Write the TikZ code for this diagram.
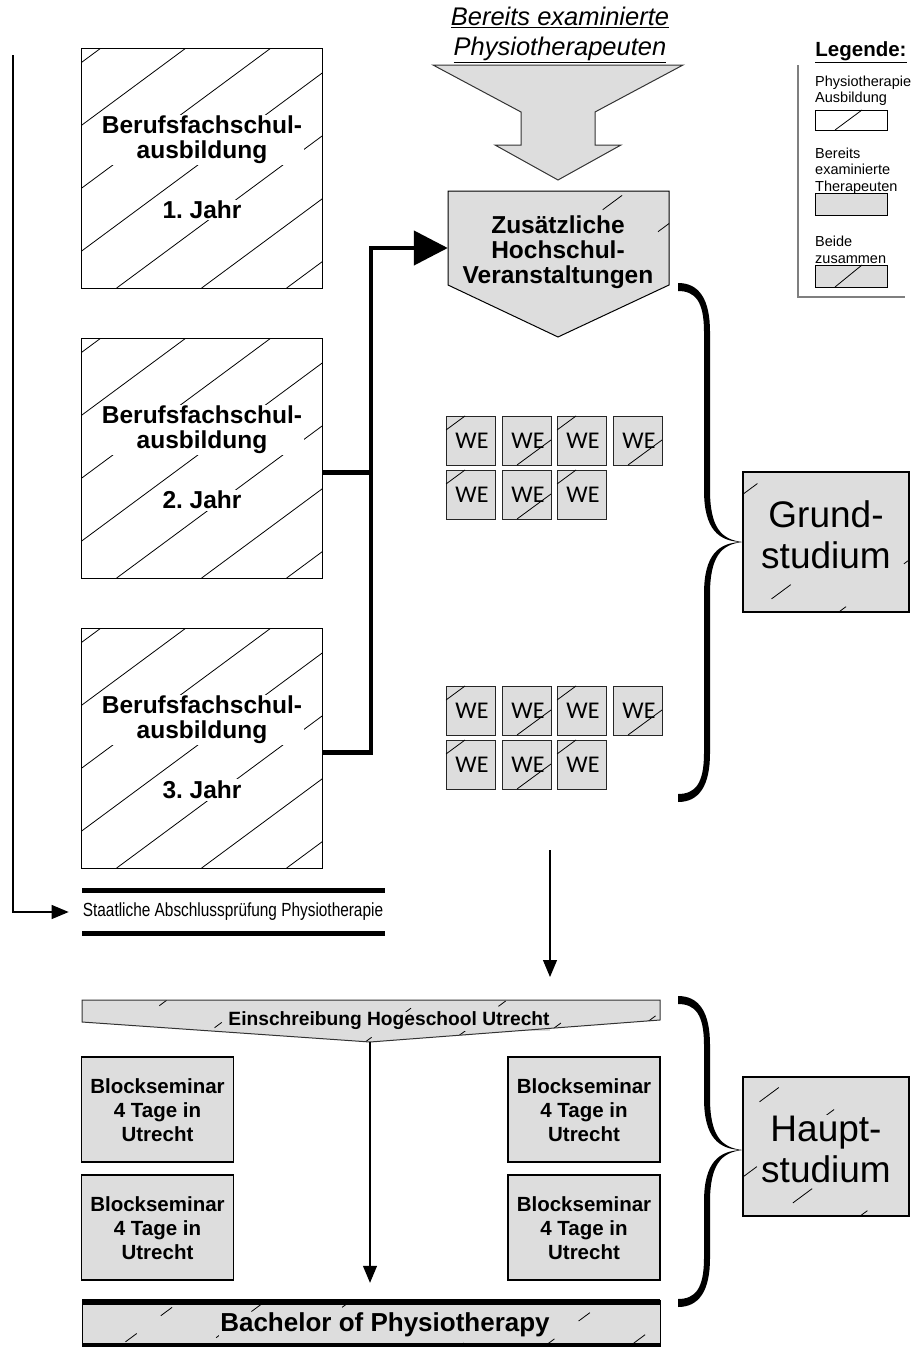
\documentclass[tikz,border=0pt]{standalone}
\usepackage{fontspec}
\usepackage{graphicx}
\setmainfont{Liberation Sans}
\newfontfamily\wefont{Carlito}
\usetikzlibrary{arrows.meta}
\definecolor{boxgrey}{HTML}{DDDDDD}
\definecolor{framegrey}{HTML}{7F7F7F}
\newcommand{\myfs}[2]{\fontsize{#1}{#2}\selectfont}
% hatch: #1 clip path, #2 x1, #3 y1, #4 x2, #5 y2, #6 options, #7 phase
\newcommand{\hatchclip}[7]{%
  \begin{scope}
    \clip #1;
    \pgfmathsetmacro{\hh}{#5-#3}%
    \pgfmathsetmacro{\dxx}{\hh/0.74}%
    \pgfmathtruncatemacro{\nn}{(#4-#2+\dxx)/85+1}%
    \foreach \i in {0,...,\nn}{%
      \pgfmathsetmacro{\cc}{#2-\dxx+\i*85+#7}%
      \pgfmathsetmacro{\ph}{\i*37}%
      \draw[hatchline,#6,dash phase=\ph pt] (\cc,#5) -- ++(\dxx,-\hh);
    }%
  \end{scope}}
% curly brace: #1 top y, #2 tip y, #3 bottom y
\newcommand{\curlybrace}[3]{%
  \fill[black] (678,{#1-4}) .. controls (699,{#1-4}) and (710,{#1+12}) .. (710,{#1+45})
    -- (710,{#2-52}) .. controls (710,{#2-15}) and (721,{#2-2}) .. (743,#2)
    .. controls (721,{#2+2}) and (710,{#2+15}) .. (710,{#2+52})
    -- (710,{#3-45}) .. controls (710,{#3-12}) and (699,{#3+4}) .. (678,{#3+4})
    -- (678,{#3-4}) .. controls (695,{#3-4}) and (704,{#3-14}) .. (704,{#3-45})
    -- (704,{#2+52}) .. controls (704,{#2+12}) and (719,{#2+1}) .. (741,#2)
    .. controls (719,{#2-1}) and (704,{#2-12}) .. (704,{#2-52})
    -- (704,{#1+45}) .. controls (704,{#1+14}) and (695,{#1+4}) .. (678,{#1+4}) -- cycle;}
% WE box: #1 name, #2 x, #3 y, #4 corner (1 = top left, 2 = bottom right)
\newcommand{\weBox}[4]{%
  \node[wenode] (#1) at ({#2+24.5},{#3+24.5}) {\hspace{3pt}WE};
  \ifnum#4=1
    \draw[hatchline] (#2,{#3+14}) -- ({#2+19},#3);
  \else
    \draw[hatchline] ({#2+15},{#3+49}) -- ({#2+49},{#3+24});
  \fi}
\begin{document}
\begin{tikzpicture}[x=1pt,y=-1pt,
  hatchline/.style={line width=0.8pt, black},
  sparse/.style={dash pattern=on 24pt off 72pt},
  edge/.style={draw=black, line width=1.1pt},
  whitebox/.style={edge, minimum width=241pt, minimum height=240pt, inner sep=0pt, anchor=north west},
  bftxt/.style={font=\bfseries\myfs{24.5}{25}, align=center, fill=white, inner sep=1.5pt},
  greytxt/.style={font=\bfseries\myfs{24.5}{25}, align=center, fill=boxgrey, inner sep=1.5pt},
  bstxt/.style={font=\bfseries\myfs{20.5}{24}, align=center, fill=boxgrey, inner sep=0.5pt},
  bsbox/.style={edge, minimum width=152pt, minimum height=105pt, inner sep=0pt},
  studtxt/.style={font=\myfs{37}{41}, align=center, fill=boxgrey, inner sep=1pt},
  wenode/.style={draw=black!85, line width=1pt, fill=boxgrey, minimum size=49pt, inner sep=0pt, font=\wefont\myfs{24}{24}},
  legtxt/.style={font=\myfs{14.5}{16.5}, align=left, anchor=west, inner sep=0pt},
  thickconn/.style={line width=4.5pt, line join=miter},
  thinconn/.style={line width=1.1pt},
  bigtip/.style={-{Triangle[length=34pt,width=34pt]}},
  smalltip/.style={-{Triangle[length=17pt,width=14pt]}},
  ghost/.style={inner sep=0pt}
]
\useasboundingbox (0,0) rectangle (913,1349);

% ---------- Berufsfachschule boxes ----------
\foreach \T/\nm/\yr in {48/b1/1, 338/b2/2, 628/b3/3}{
  \hatchclip{(81,\T) rectangle (322,\T+240)}{81}{\T}{322}{\T+240}{}{20}
  \node[whitebox] (\nm) at (81,\T) {};
  \node[bftxt] at (202,\T+92) {Berufsfachschul-\\ausbildung};
  \node[bftxt] at (202,\T+162) {\yr.\ Jahr};
}

% ---------- top text and big arrow ----------
\node[font=\itshape\myfs{25.5}{30}, align=center, inner sep=0pt] (bereits) at (560,35)
  {\underline{Bereits examinierte}\\\underline{Physiotherapeuten}};
\filldraw[fill=boxgrey, draw=black!80, line width=1pt]
  (433,65) -- (683,65) -- (595,112) -- (595,145) -- (621,145) -- (558,180)
  -- (495,145) -- (521,145) -- (521,112) -- cycle;

% ---------- Zusaetzliche Hochschulveranstaltungen ----------
\fill[boxgrey] (448,191) -- (669,191) -- (669,285) -- (558,337) -- (448,285) -- cycle;
\hatchclip{(448,191) -- (669,191) -- (669,285) -- (558,337) -- (448,285) -- cycle}{448}{191}{669}{337}{sparse}{10}
\node[ghost, minimum width=221pt, minimum height=94pt] (zus) at (558.5,238) {};
\node[greytxt] (zustxt) at (558,252) {Zusätzliche\\Hochschul-\\Veranstaltungen};
\draw[edge, line width=1pt] (448,191) -- (669,191) -- (669,285) -- (558,337) -- (448,285) -- cycle;

% ---------- thick connectors ----------
\draw[thickconn] ([yshift=-14pt]b2.east) -- ++(48,0);
\draw[thickconn, bigtip] ([yshift=-4pt]b3.east) -- ++(48,0) |- ([yshift=-10pt]zus.west);

% ---------- WE groups ----------
\foreach \gy/\g in {416/a, 686/b}{
  \weBox{we\g1}{446}{\gy}{1}
  \weBox{we\g2}{502}{\gy}{2}
  \weBox{we\g3}{557}{\gy}{1}
  \weBox{we\g4}{613}{\gy}{2}
  \weBox{we\g5}{446}{\gy+54}{1}
  \weBox{we\g6}{502}{\gy+54}{2}
  \weBox{we\g7}{557}{\gy+54}{1}
}

% ---------- Grundstudium ----------
\fill[boxgrey] (743,472) rectangle (909,612);
\hatchclip{(743,472) rectangle (909,612)}{743}{472}{909}{612}{sparse}{30}
\node[studtxt] (grundtxt) at (826,535) {Grund-\\studium};
\node[edge, minimum width=166pt, minimum height=140pt, inner sep=0pt] (grund) at (826,542) {};
\curlybrace{287}{542}{798}

% ---------- legend ----------
\node[font=\bfseries\myfs{20.5}{22}, inner sep=0pt] (leg) at (861,52) {\underline{Legende:}};
\draw[framegrey, line width=1.1pt] (798,65) -- (798,297) -- (905,297);
\node[legtxt] (l1) at (815,91) {Physiotherapie\\Ausbildung};
\node[edge, line width=0.9pt, minimum width=72pt, minimum height=20pt, inner sep=0pt] (lb1) at (851,120) {};
\draw[hatchline] (835,130) -- (862,110);
\node[legtxt] (l2) at (815,171) {Bereits\\examinierte\\Therapeuten};
\node[edge, line width=0.9pt, fill=boxgrey, minimum width=72pt, minimum height=22pt, inner sep=0pt] (lb2) at (851,204) {};
\node[legtxt] (l3) at (815,250) {Beide\\zusammen};
\node[edge, line width=0.9pt, fill=boxgrey, minimum width=72pt, minimum height=22pt, inner sep=0pt] (lb3) at (851,276) {};
\draw[hatchline] (835,287) -- (862,265);

% ---------- Staatliche Abschlusspruefung ----------
\node[font=\myfs{19}{21}, inner sep=0pt] (st) at (233,912)
  {\scalebox{0.81}[1]{Staatliche Abschlussprüfung Physiotherapie}};
\draw[line width=5pt] (82,890) -- (385,890);
\draw[line width=5pt] (82,933) -- (385,933);
\coordinate (ls) at (13,55);
\draw[thinconn, smalltip, shorten >=14pt] (ls) |- (st.west);

% ---------- arrow to Einschreibung ----------
\coordinate (wesrc) at (550,850);
\coordinate (wedst) at (550,977);
\draw[thinconn, smalltip] (wesrc) -- (wedst);

% ---------- Einschreibung ----------
\fill[boxgrey] (82,1000) -- (660,1000) -- (660,1020) -- (370,1042) -- (82,1022) -- cycle;
\hatchclip{(82,1000) -- (660,1000) -- (660,1020) -- (370,1042) -- (82,1022) -- cycle}{82}{1000}{660}{1042}{dash pattern=on 9pt off 40pt}{0}
\node[ghost, minimum width=578pt, minimum height=22pt] (ein) at (371,1011) {};
\node[font=\bfseries\myfs{19.2}{20}, fill=boxgrey, inner sep=0.5pt] (eintxt) at (389,1021) {Einschreibung Hogeschool Utrecht};
\draw[draw=black!80, line width=1pt] (82,1000) -- (660,1000) -- (660,1020) -- (370,1042) -- (82,1022) -- cycle;
\coordinate (eintip) at (370,1042);

% ---------- Blockseminare ----------
\foreach \cx/\cy/\nm/\ph in {157.5/1109.5/bs1/0, 157.5/1227.5/bs2/40, 584/1109.5/bs3/20, 584/1227.5/bs4/60}{
  \fill[boxgrey] (\cx-76,\cy-52.5) rectangle (\cx+76,\cy+52.5);
  \hatchclip{(\cx-76,\cy-52.5) rectangle (\cx+76,\cy+52.5)}{\cx-76}{\cy-52.5}{\cx+76}{\cy+52.5}{dash pattern=on 22pt off 45pt}{\ph}
  \node[bstxt] at (\cx,\cy+1) {Blockseminar\\4 Tage in\\Utrecht};
  \node[bsbox] (\nm) at (\cx,\cy) {};
}

% ---------- Bachelor ----------
\fill[boxgrey] (82,1300) rectangle (660,1346);
\hatchclip{(82,1300) rectangle (660,1346)}{82}{1300}{660}{1346}{dash pattern=on 14pt off 30pt}{15}
\node[ghost, minimum width=578pt, minimum height=46pt] (bach) at (371,1323) {};
\node[font=\bfseries\myfs{26}{27}, fill=boxgrey, inner sep=1pt] (bachtxt) at (385,1325) {Bachelor of Physiotherapy};
\draw[line width=1pt] (82,1300) rectangle (660,1346);
\draw[line width=6pt] (82,1302) -- (660,1302);
\draw[line width=4pt] (82,1345) -- (660,1345);
\draw[thinconn, smalltip, shorten >=17pt] (eintip) -- (eintip |- bach.north);

% ---------- Hauptstudium ----------
\fill[boxgrey] (743,1077) rectangle (909,1216);
\hatchclip{(743,1077) rectangle (909,1216)}{743}{1077}{909}{1216}{sparse}{50}
\node[studtxt] (haupttxt) at (826,1149) {Haupt-\\studium};
\node[edge, minimum width=166pt, minimum height=139pt, inner sep=0pt] (haupt) at (826,1146.5) {};
\curlybrace{1000}{1150}{1303}

\end{tikzpicture}
\end{document}
